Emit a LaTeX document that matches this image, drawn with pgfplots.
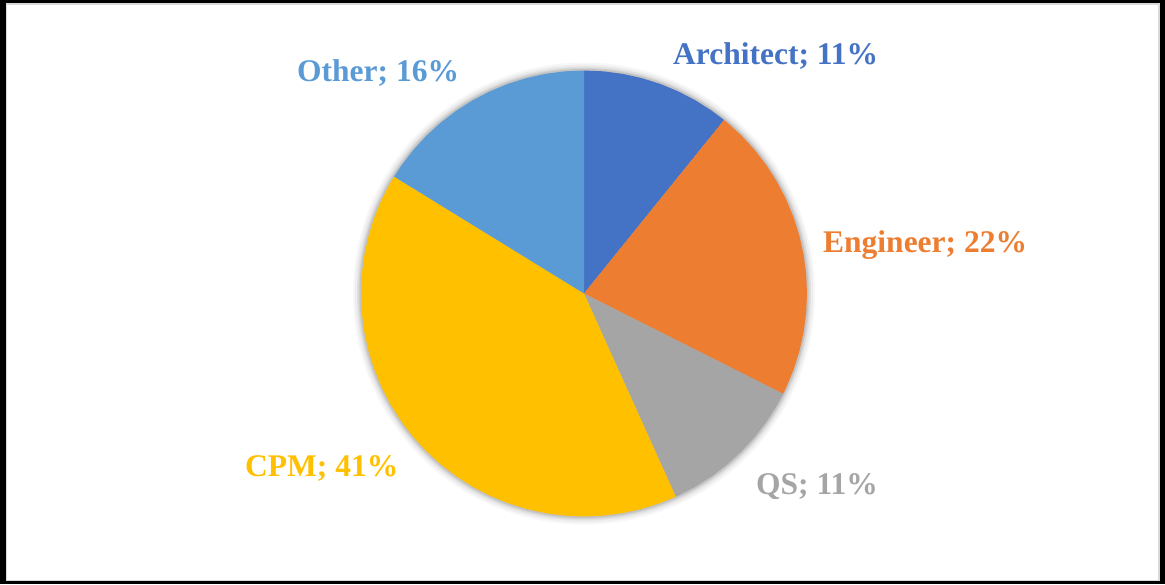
\documentclass[border=0pt]{standalone}
\usepackage{pgfplots}
\pgfplotsset{compat=1.18}
\usepgfplotslibrary{polar}
\usepackage{fontspec}
\setmainfont{Liberation Serif}
\definecolor{cArch}{HTML}{4472C4}
\definecolor{cEng}{HTML}{ED7D31}
\definecolor{cQS}{HTML}{A5A5A5}
\definecolor{cCPM}{HTML}{FFC000}
\definecolor{cOth}{HTML}{5B9BD5}
\begin{document}
\begin{tikzpicture}[x=1pt,y=1pt]
% frame
\fill[black] (0,0) rectangle (1165,584);
\fill[white,draw=black!15,line width=1.5pt] (6.5,3.5) rectangle (1159,580);
% soft shadow around the pie
\foreach \r/\o in {231/0.03,229/0.04,227/0.05,225.5/0.06,224.5/0.07}{
  \fill[black,opacity=\o] (584,290.5) circle (\r);
}
% Shares: Architect 4, Engineer 8, QS 4, CPM 15, Other 6 (of 37)
% -> 38.92, 77.84, 38.92, 145.95, 58.38 degrees, clockwise from the top
\begin{polaraxis}[at={(584pt,290.5pt)}, anchor=center,
  width=446pt, height=446pt, scale only axis, hide axis,
  ymin=0, ymax=1, clip=false]
\addplot[fill=cArch, draw=none] coordinates {(0,0) (90,1) (85,1) (80,1) (75,1) (70,1) (65,1) (60,1) (55,1) (51.08,1)} --cycle;
\addplot[fill=cEng, draw=none] coordinates {(0,0) (51.08,1) (50,1) (45,1) (40,1) (35,1) (30,1) (25,1) (20,1) (15,1) (10,1) (5,1) (0,1) (-5,1) (-10,1) (-15,1) (-20,1) (-25,1) (-26.76,1)} --cycle;
\addplot[fill=cQS, draw=none] coordinates {(0,0) (-26.76,1) (-30,1) (-35,1) (-40,1) (-45,1) (-50,1) (-55,1) (-60,1) (-65,1) (-65.68,1)} --cycle;
\addplot[fill=cCPM, draw=none] coordinates {(0,0) (-65.68,1) (-70,1) (-75,1) (-80,1) (-85,1) (-90,1) (-95,1) (-100,1) (-105,1) (-110,1) (-115,1) (-120,1) (-125,1) (-130,1) (-135,1) (-140,1) (-145,1) (-150,1) (-155,1) (-160,1) (-165,1) (-170,1) (-175,1) (-180,1) (-185,1) (-190,1) (-195,1) (-200,1) (-205,1) (-210,1) (-211.62,1)} --cycle;
\addplot[fill=cOth, draw=none] coordinates {(0,0) (-211.62,1) (-215,1) (-220,1) (-225,1) (-230,1) (-235,1) (-240,1) (-245,1) (-250,1) (-255,1) (-260,1) (-265,1) (-270,1)} --cycle;
\end{polaraxis}
% labels
\begin{scope}[every node/.style={anchor=base west,inner sep=0pt,font=\fontsize{31.5}{36}\selectfont\bfseries}]
\node[text=cArch] at (673,519) {Architect; 11\%};
\node[text=cEng] at (823,331) {Engineer; 22\%};
\node[text=cQS] at (756,89) {QS; 11\%};
\node[text=cCPM] at (245,107) {CPM; 41\%};
\node[text=cOth] at (297,502) {Other; 16\%};
\end{scope}
\end{tikzpicture}
\end{document}
